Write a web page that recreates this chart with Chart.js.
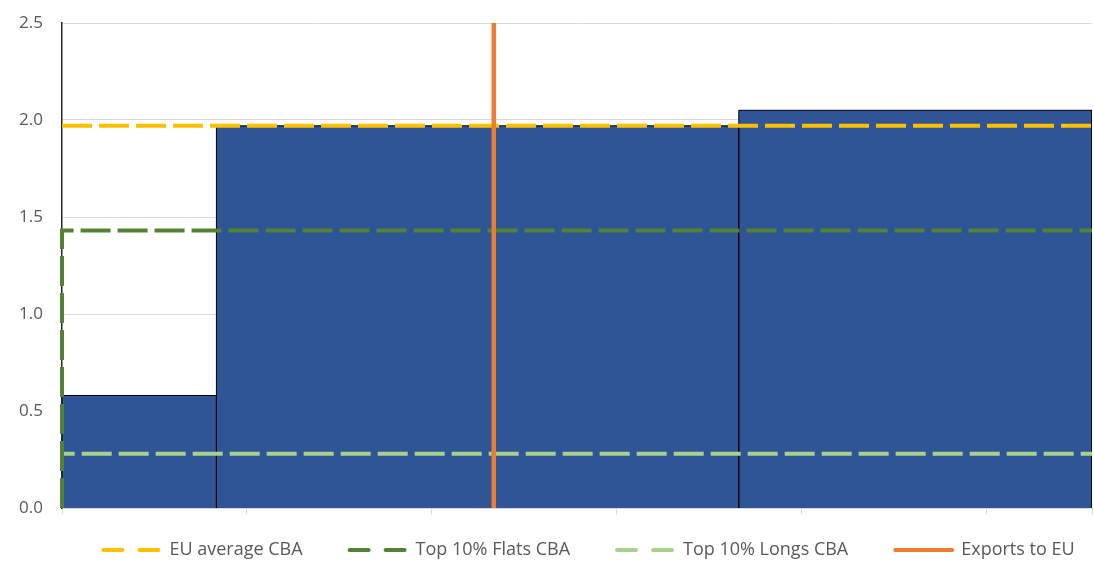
<!doctype html>
<html lang="en">
<head>
  <meta charset="utf-8">
  <title>CBA benchmarks and exports to EU</title>
  <script src="https://cdn.jsdelivr.net/npm/chart.js"></script>
  <style>
    html, body { margin: 0; padding: 0; background: #fff; }
  </style>
</head>
<body>
  <canvas id="cbaChart" width="1094" height="563"></canvas>

  <script>
    // blocks of the step chart: edges along x and the height of each block
    const barEdges = [0, 8.35, 36.6, 55.7];
    const barHeights = [0.58, 1.97, 2.05];

    // benchmark levels (horizontal dashed lines)
    const euAverageCBA = 1.97;
    const flatsTop10CBA = 1.43;
    const longsTop10CBA = 0.28;

    // exports to EU (vertical line) and axis ranges
    const exportsToEU = 23.35;
    const yMax = 2.5;
    const yStep = 0.5;
    const xStep = 10;

    const xMax = barEdges[barEdges.length - 1];

    // outline of the blocks, each one from the baseline up and back down
    const blockPoints = [];
    for (let i = 0; i < barHeights.length; i++) {
      blockPoints.push(
        { x: barEdges[i], y: 0 },
        { x: barEdges[i], y: barHeights[i] },
        { x: barEdges[i + 1], y: barHeights[i] },
        { x: barEdges[i + 1], y: 0 }
      );
    }

    const dash = [30, 7];
    const legendDash = [19, 17];
    const textColor = '#595959';
    const fontFamily = '"Open Sans", "Liberation Sans", sans-serif';

    const data = {
      datasets: [
        {
          label: 'EU average CBA',
          data: [{ x: 0, y: euAverageCBA }, { x: xMax, y: euAverageCBA }],
          borderColor: '#FFC000',
          backgroundColor: '#FFC000',
          borderWidth: 4,
          borderDash: dash,
          order: 1
        },
        {
          label: 'Top 10% Flats CBA',
          data: [{ x: 0, y: 0 }, { x: 0, y: flatsTop10CBA }, { x: xMax, y: flatsTop10CBA }],
          borderColor: '#548235',
          backgroundColor: '#548235',
          borderWidth: 4,
          borderDash: dash,
          clip: false,
          order: 2
        },
        {
          label: 'Top 10% Longs CBA',
          data: [{ x: 0, y: 0 }, { x: 0, y: longsTop10CBA }, { x: xMax, y: longsTop10CBA }],
          borderColor: '#A9D18E',
          backgroundColor: '#A9D18E',
          borderWidth: 4,
          borderDash: dash,
          clip: false,
          order: 3
        },
        {
          label: 'Exports to EU',
          data: [{ x: exportsToEU, y: 0 }, { x: exportsToEU, y: yMax }],
          borderColor: '#ED7D31',
          backgroundColor: '#ED7D31',
          borderWidth: 4.5,
          order: 0
        },
        {
          label: '',
          data: blockPoints,
          borderColor: '#000000',
          backgroundColor: '#2F5597',
          borderWidth: 1,
          fill: 'origin',
          order: 4
        }
      ]
    };

    // lift the legend row so it sits just under the axis, centred a little right of the plot
    const legendNudge = {
      id: 'legendNudge',
      afterLayout(chart) {
        const lg = chart.legend;
        const ca = chart.chartArea;
        const pad = lg.options.labels.padding;
        const targetTop = chart.height - 13 - lg.options.labels.font.size / 2 - pad;
        const dy = lg.top - targetTop;
        lg.top -= dy;
        lg.bottom -= dy;
        const dx = (ca.left + ca.right) / 2 + 12 - (lg.left + lg.right) / 2;
        lg.left += dx;
        lg.right += dx;
      }
    };

    const config = {
      type: 'line',
      data,
      options: {
        responsive: false,
        animation: false,
        events: [],
        layout: { padding: { top: 23, right: 2, left: 0, bottom: -28 } },
        elements: {
          point: { radius: 0 },
          line: { tension: 0, borderCapStyle: 'butt', borderJoinStyle: 'miter' }
        },
        scales: {
          x: {
            type: 'linear',
            min: 0,
            max: xMax,
            grid: { drawOnChartArea: false, drawTicks: true, tickLength: 6, color: '#d9d9d9' },
            border: { color: '#d9d9d9', width: 1 },
            ticks: { display: false, stepSize: xStep },
            afterFit(scale) { scale.height = 8; }
          },
          y: {
            min: 0,
            max: yMax,
            grid: { color: '#d9d9d9', drawTicks: false },
            border: { color: '#262626', width: 1.5 },
            ticks: {
              stepSize: yStep,
              padding: 19,
              color: textColor,
              font: { family: fontFamily, size: 17 },
              callback: v => v.toFixed(1)
            },
            afterFit(scale) {
              scale.width = 62;
              scale.paddingTop = 0;
              scale.paddingBottom = 0;
            }
          }
        },
        plugins: {
          tooltip: { enabled: false },
          legend: {
            position: 'bottom',
            labels: {
              usePointStyle: true,
              pointStyleWidth: 57,
              padding: 47,
              color: textColor,
              font: { family: fontFamily, size: 18 },
              filter: item => item.text !== '',
              sort: (a, b) => a.datasetIndex - b.datasetIndex,
              generateLabels(chart) {
                const items = Chart.defaults.plugins.legend.labels.generateLabels(chart);
                items.forEach(item => {
                  const ds = chart.data.datasets[item.datasetIndex];
                  item.pointStyle = 'line';
                  item.lineWidth = 4;
                  item.lineCap = 'round';
                  item.lineDash = ds.borderDash ? legendDash : [];
                });
                return items;
              }
            }
          }
        }
      },
      plugins: [legendNudge]
    };

    new Chart(document.getElementById('cbaChart'), config);
  </script>
</body>
</html>
